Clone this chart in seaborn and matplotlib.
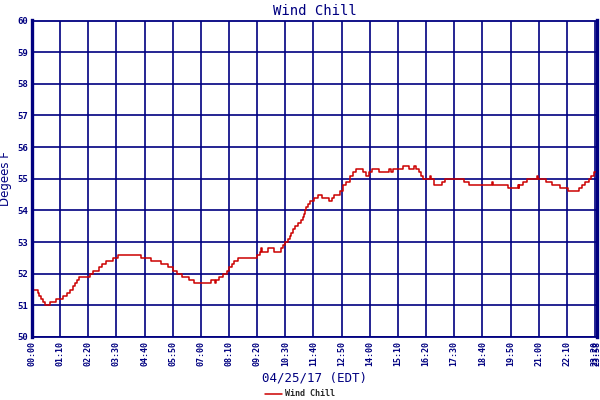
import matplotlib
matplotlib.use("Agg")
import matplotlib.pyplot as plt
import seaborn as sns

# Wind chill readings (minutes after midnight, degrees F) - change points of a stepped series
minutes = [
    0, 3, 15, 18, 23, 28, 33, 45, 60, 78, 87, 95, 102, 108, 112, 118, 143, 152,
    166, 174, 183, 202, 213, 270, 297, 320, 337, 350, 360, 374, 391, 402, 445,
    454, 457, 466, 474, 485, 491, 497, 503, 512, 560, 566, 570, 572, 587, 602,
    618, 624, 630, 637, 642, 645, 650, 655, 662, 670, 674, 677, 680, 682, 687,
    691, 702, 710, 722, 739, 745, 750, 766, 774, 782, 791, 797, 806, 824, 831,
    837, 845, 864, 887, 893, 897, 922, 937, 951, 956, 962, 967, 972, 989, 993,
    999, 1020, 1028, 1074, 1087, 1145, 1147, 1184, 1208, 1210, 1212, 1220,
    1231, 1241, 1256, 1258, 1278, 1293, 1312, 1332, 1359, 1368, 1374, 1384,
    1391, 1398, 1405,
]
wind_chill = [
    51.6, 51.5, 51.4, 51.3, 51.2, 51.1, 51.0, 51.1, 51.2, 51.3, 51.4, 51.5, 51.6,
    51.7, 51.8, 51.9, 52.0, 52.1, 52.2, 52.3, 52.4, 52.5, 52.6, 52.5, 52.4, 52.3,
    52.2, 52.1, 52.0, 51.9, 51.8, 51.7, 51.8, 51.7, 51.8, 51.9, 52.0, 52.1, 52.2,
    52.3, 52.4, 52.5, 52.6, 52.7, 52.8, 52.7, 52.8, 52.7, 52.8, 52.9, 53.0, 53.1,
    53.2, 53.3, 53.4, 53.5, 53.6, 53.7, 53.8, 53.9, 54.0, 54.1, 54.2, 54.3, 54.4,
    54.5, 54.4, 54.3, 54.4, 54.5, 54.6, 54.8, 54.9, 55.1, 55.2, 55.3, 55.2, 55.1,
    55.2, 55.3, 55.2, 55.3, 55.2, 55.3, 55.4, 55.3, 55.4, 55.3, 55.2, 55.1, 55.0,
    55.1, 55.0, 54.8, 54.9, 55.0, 54.9, 54.8, 54.9, 54.8, 54.7, 54.8, 54.7, 54.8,
    54.9, 55.0, 55.0, 55.1, 55.0, 54.9, 54.8, 54.7, 54.6, 54.7, 54.8, 54.9, 55.0,
    55.1, 55.2, 55.2,
]

tick_minutes = [0, 70, 140, 210, 280, 350, 420, 490, 560, 630, 700, 770, 840,
                910, 980, 1050, 1120, 1190, 1260, 1330, 1400, 1405]
tick_labels = ["00:00", "01:10", "02:20", "03:30", "04:40", "05:50", "07:00",
               "08:10", "09:20", "10:30", "11:40", "12:50", "14:00", "15:10",
               "16:20", "17:30", "18:40", "19:50", "21:00", "22:10", "23:20",
               "23:58"]
y_ticks = list(range(50, 61))

navy = "#000080"
red = "#cc0000"
mono = "DejaVu Sans Mono"

sns.set_style("white")

fig = plt.figure(figsize=(6, 4), dpi=100)
ax = fig.add_axes([32 / 600, 1 - 337 / 400, (597 - 32) / 600, (337 - 20.5) / 400])

sns.lineplot(x=minutes, y=wind_chill, drawstyle="steps-post", color=red,
             linewidth=1.1, ax=ax, label="Wind Chill")

ax.set_xlim(0, 1405)
ax.set_ylim(50, 60)
ax.set_xticks(tick_minutes)
ax.set_xticklabels(tick_labels, rotation=90, fontfamily=mono, fontweight="bold",
                   fontsize=6, color=navy)
ax.set_yticks(y_ticks)
ax.set_yticklabels([str(v) for v in y_ticks], fontfamily=mono, fontweight="bold",
                   fontsize=6.5, color=navy)
ax.tick_params(axis="both", length=0, pad=3)

ax.set_axisbelow(True)
ax.grid(True, color=navy, linewidth=1.2)
for side in ["top", "bottom"]:
    ax.spines[side].set_color(navy)
    ax.spines[side].set_linewidth(1.3)
for side in ["left", "right"]:
    ax.spines[side].set_color(navy)
    ax.spines[side].set_linewidth(2.4)

ax.set_title("Wind Chill", fontfamily=mono, fontsize=10, color=navy, pad=4)
ax.set_ylabel("Degees F", fontsize=8.5, color=navy, labelpad=4)
ax.set_xlabel("")
fig.text(314 / 600, 1 - 378 / 400, "04/25/17 (EDT)", fontfamily=mono, fontsize=9,
         color=navy, ha="center", va="center")

handles, labels = ax.get_legend_handles_labels()
ax.get_legend().remove()
fig.legend(handles, labels, loc="center", bbox_to_anchor=(300 / 600, 1 - 394 / 400),
           frameon=False, prop={"family": mono, "weight": "bold", "size": 6},
           handlelength=2, handletextpad=0.4)

fig.savefig("out.png", dpi=100)
